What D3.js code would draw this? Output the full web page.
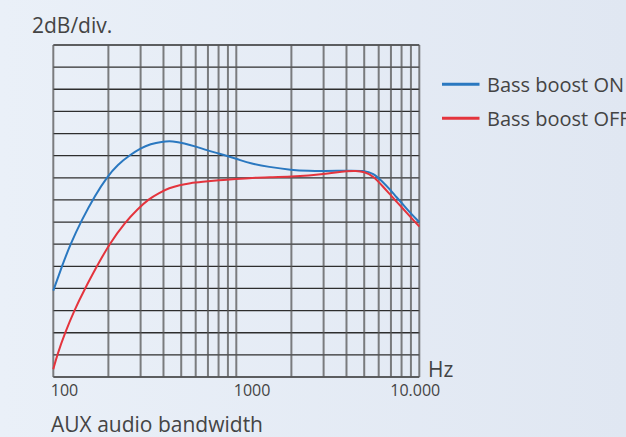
<!DOCTYPE html>
<html>
<head>
<meta charset="utf-8">
<script src="https://cdn.jsdelivr.net/npm/d3@7"></script>
<style>
  html, body { margin: 0; padding: 0; }
  body { width: 626px; height: 437px; overflow: hidden; }
</style>
</head>
<body>
<div id="chart"></div>
<script>
// frequency response, dB relative to the OFF plateau (2 dB per division)
const onFreq = [100, 112, 124, 143, 169, 197, 225, 262, 300, 340, 390, 450, 520, 600, 700, 800, 920, 1050, 1200, 1500, 2000, 2500, 3000, 4000, 5000, 5600, 6300, 7000, 7500, 8000, 8900, 10000];
const onDb = [-10.2, -7.9, -6.0, -3.8, -1.6, 0.1, 1.2, 2.05, 2.68, 3.05, 3.27, 3.33, 3.12, 2.83, 2.46, 2.2, 1.9, 1.6, 1.3, 0.98, 0.7, 0.62, 0.6, 0.65, 0.65, 0.42, -0.35, -1.15, -1.75, -2.25, -3.15, -4.0];

const offFreq = [100, 105, 116, 130, 149, 173, 202, 247, 290, 330, 380, 430, 490, 560, 650, 800, 1000, 1200, 1600, 2000, 2500, 3000, 3500, 4000, 4500, 5000, 5600, 6300, 7000, 7500, 8000, 8900, 10000];
const offDb = [-17.3, -16, -14, -12, -10, -8, -6, -4, -2.8, -1.95, -1.35, -0.92, -0.65, -0.48, -0.37, -0.22, -0.1, 0, 0.05, 0.1, 0.2, 0.33, 0.48, 0.6, 0.63, 0.55, 0.15, -0.75, -1.6, -2.15, -2.65, -3.5, -4.4];

const seriesNames = ["Bass boost ON", "Bass boost OFF"];
const tickValues = [100, 1000, 10000];
const tickLabels = ["100", "1000", "10.000"];
const minorFreqs = [100, 200, 300, 400, 500, 600, 700, 800, 900, 1000, 2000, 3000, 4000, 5000, 6000, 7000, 8000, 9000, 10000];
const dbGrid = d3.range(-18, 12.01, 2);

const width = 626, height = 437;
const colors = ["#2a78c0", "#e4343d"];
const textColor = "#444";
const font = "'Open Sans', sans-serif";

const x = d3.scaleLog().domain([100, 10000]).range([53.3, 419.3]);
const y = d3.scaleLinear().domain([-18, 12]).range([377, 45]);

const svg = d3.select("#chart").append("svg")
  .attr("width", width)
  .attr("height", height);

const grad = svg.append("defs").append("linearGradient")
  .attr("id", "bg").attr("x1", 0).attr("x2", 1).attr("y1", 0).attr("y2", 0);
grad.append("stop").attr("offset", "0%").attr("stop-color", "#eaf0f8");
grad.append("stop").attr("offset", "100%").attr("stop-color", "#e0e7f2");

svg.append("rect").attr("width", width).attr("height", height).attr("fill", "url(#bg)");

// grid
svg.append("g").selectAll("line")
  .data(dbGrid)
  .enter().append("line")
  .attr("x1", x(100)).attr("x2", x(10000))
  .attr("y1", d => y(d)).attr("y2", d => y(d))
  .style("stroke", "#2e2e2e")
  .style("stroke-width", 1.3);

svg.append("g").selectAll("line")
  .data(minorFreqs)
  .enter().append("line")
  .attr("x1", d => x(d)).attr("x2", d => x(d))
  .attr("y1", y(12)).attr("y2", y(-18))
  .style("stroke", "#555")
  .style("stroke-opacity", 0.75)
  .style("stroke-width", 2);

// curves
const line = d3.line()
  .x(d => x(d[0]))
  .y(d => y(d[1]))
  .curve(d3.curveBasis);

const series = [d3.zip(onFreq, onDb), d3.zip(offFreq, offDb)];

svg.append("g").selectAll("path")
  .data(series)
  .enter().append("path")
  .attr("d", line)
  .style("fill", "none")
  .style("stroke", (_, i) => colors[i])
  .style("stroke-width", 2);

// x tick labels
svg.append("g").selectAll("text")
  .data(tickValues)
  .enter().append("text")
  .attr("x", (d, i) => x(d) + (i < tickValues.length - 1 ? -2.5 : -4))
  .attr("y", 396)
  .attr("text-anchor", (d, i) => i < tickValues.length - 1 ? "start" : "middle")
  .style("font-family", font)
  .style("font-size", "16px")
  .style("fill", textColor)
  .text((d, i) => tickLabels[i]);

svg.append("text")
  .attr("x", 428).attr("y", 377)
  .style("font-family", font).style("font-size", "21px").style("fill", textColor)
  .text("Hz");

svg.append("text")
  .attr("x", 32).attr("y", 33)
  .style("font-family", font).style("font-size", "21px").style("fill", textColor)
  .text("2dB/div.");

svg.append("text")
  .attr("x", 51).attr("y", 432)
  .style("font-family", font).style("font-size", "21px").style("fill", textColor)
  .text("AUX audio bandwidth");

// legend
const legend = svg.append("g").selectAll("g")
  .data(seriesNames)
  .enter().append("g")
  .attr("transform", (d, i) => `translate(442, ${84.3 + i * 34})`);

legend.append("line")
  .attr("x1", 0).attr("x2", 37.5)
  .style("stroke", (_, i) => colors[i])
  .style("stroke-width", 3);

legend.append("text")
  .attr("x", 45).attr("y", 7.5)
  .style("font-family", font).style("font-size", "20px").style("fill", textColor)
  .text(d => d);
</script>
</body>
</html>
